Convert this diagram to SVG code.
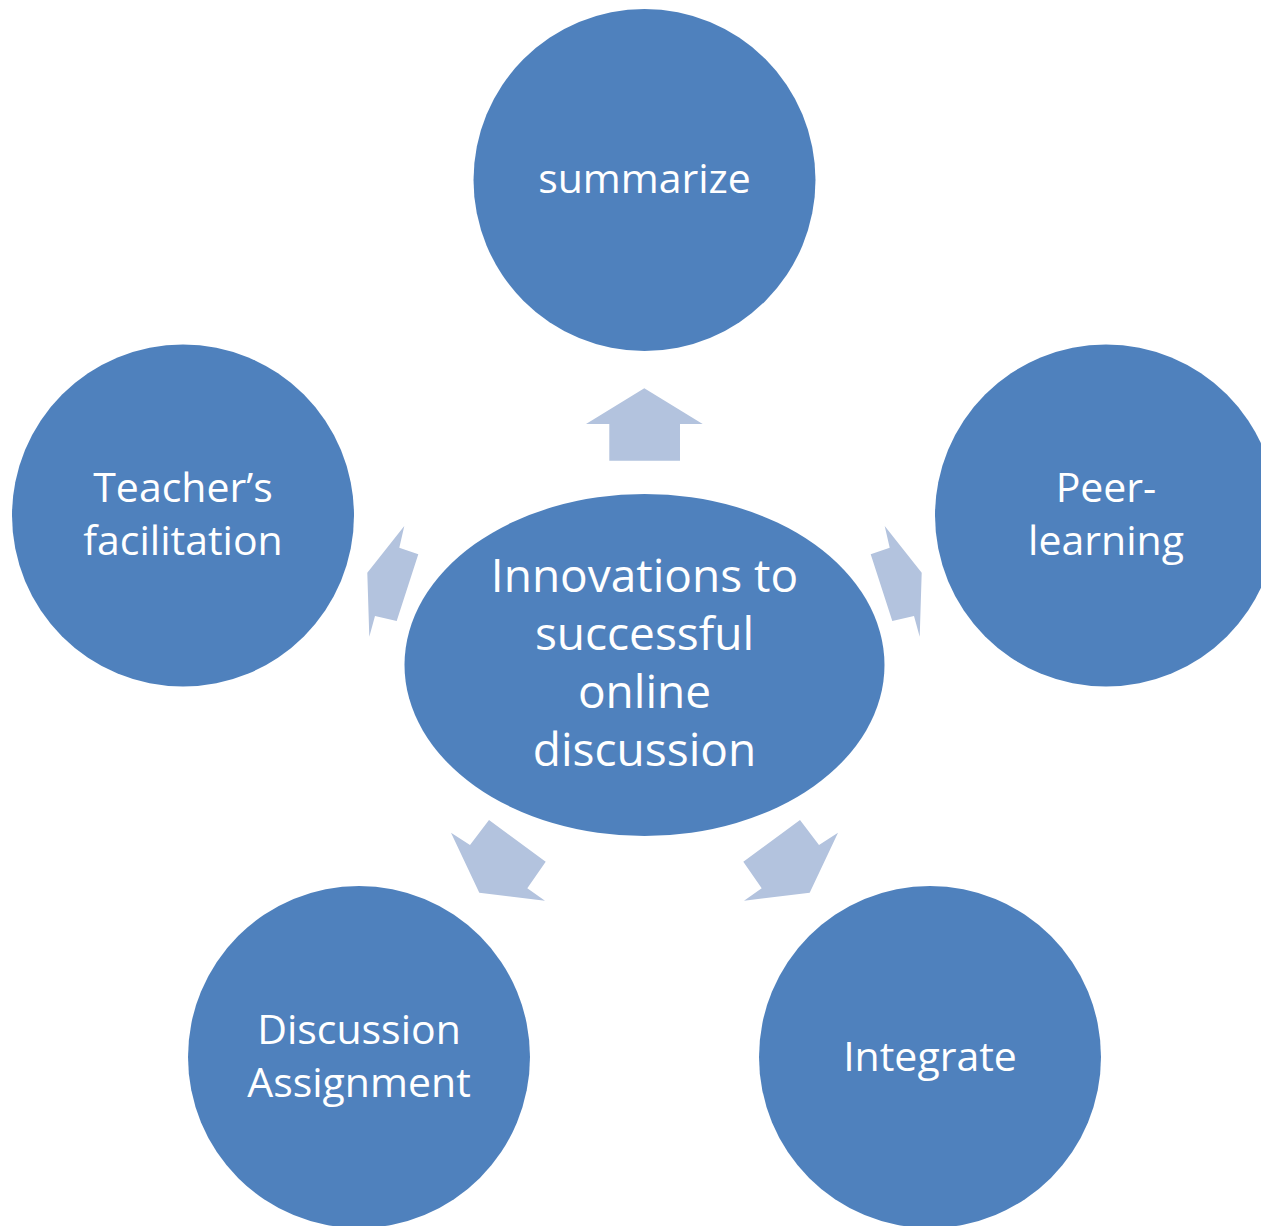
<svg xmlns="http://www.w3.org/2000/svg" width="1261" height="1226" viewBox="0 0 1261 1226">
<style>
.node{fill:#4F81BD;}
.arrow{fill:#B3C3DE;}
text{font-family:"Open Sans","Liberation Sans",sans-serif;fill:#FFFFFF;text-anchor:middle;}
.t{font-size:41px;}
.c{font-size:46px;}
</style>
<rect width="1261" height="1226" fill="#FFFFFF"/>
<g id="connectors">
<polygon class="arrow" points="644.3,388.3 702.7,424 680,424 680,460.7 609.3,460.7 609.3,424 586,424"/>
<polygon class="arrow" points="404.3,526 399.3,547.7 418.3,554.3 396.7,621 375,616 369.3,636.7 367.3,572.7"/>
<polygon class="arrow" points="884.7,526 889.7,547.7 870.7,554.3 892.3,621 914,616 919.7,636.7 921.7,572.7"/>
<polygon class="arrow" points="489,820 470,845 451,832.7 479.3,892.7 545,900.7 527.3,888.3 545.7,861.7"/>
<polygon class="arrow" points="800,820 819,845 838,832.7 809.7,892.7 744,900.7 761.7,888.3 743.3,861.7"/>
</g>
<g id="summarize">
<circle class="node" cx="644.5" cy="180" r="171"/>
<text class="t" x="644.5" y="193">summarize</text>
</g>
<g id="teachers">
<circle class="node" cx="183" cy="515.5" r="171"/>
<text class="t" x="183" y="502">Teacher’s</text>
<text class="t" x="183" y="555">facilitation</text>
</g>
<g id="peer">
<circle class="node" cx="1106" cy="515.5" r="171"/>
<text class="t" x="1106" y="502">Peer-</text>
<text class="t" x="1106" y="555">learning</text>
</g>
<g id="discussion">
<circle class="node" cx="359" cy="1057" r="171"/>
<text class="t" x="359" y="1044">Discussion</text>
<text class="t" x="359" y="1097">Assignment</text>
</g>
<g id="integrate">
<circle class="node" cx="930" cy="1057" r="171"/>
<text class="t" x="930" y="1071">Integrate</text>
</g>
<g id="center">
<ellipse class="node" cx="644.5" cy="665" rx="240" ry="171"/>
<text class="c" x="644.5" y="592">Innovations to</text>
<text class="c" x="644.5" y="650">successful</text>
<text class="c" x="644.5" y="708">online</text>
<text class="c" x="644.5" y="766">discussion</text>
</g>
</svg>
